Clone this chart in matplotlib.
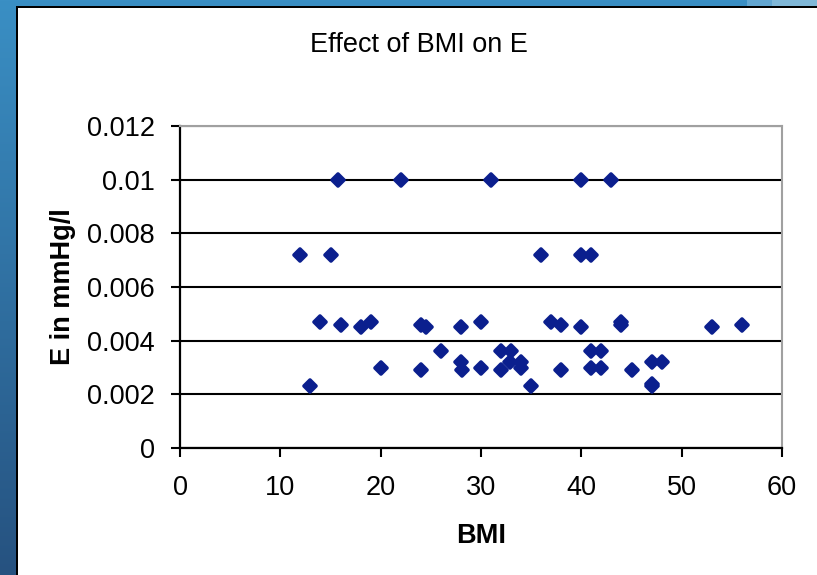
import numpy as np
import matplotlib
matplotlib.use("Agg")
import matplotlib.pyplot as plt
from matplotlib.patches import Rectangle
from matplotlib.markers import MarkerStyle

# BMI vs E values
bmi = [12, 13, 14, 15, 15.7, 16, 18, 19, 20, 22,
       24, 24, 24.5, 26, 28, 28, 28.1, 30, 30, 31,
       32, 33, 32, 32.9, 34, 34, 35, 36, 37, 38,
       38, 40, 40, 41, 40, 41, 42, 41, 42, 43,
       44, 44, 45, 47, 48, 47, 47, 53, 56]
e_values = [0.0072, 0.0023, 0.0047, 0.0072, 0.01, 0.0046, 0.0045, 0.0047, 0.003, 0.01,
            0.0046, 0.0029, 0.0045, 0.0036, 0.0045, 0.0032, 0.0029, 0.0047, 0.003, 0.01,
            0.0036, 0.0036, 0.0029, 0.0032, 0.0032, 0.003, 0.0023, 0.0072, 0.0047, 0.0046,
            0.0029, 0.01, 0.0072, 0.0072, 0.0045, 0.0036, 0.0036, 0.003, 0.003, 0.01,
            0.0047, 0.0046, 0.0029, 0.0032, 0.0032, 0.0023, 0.0024, 0.0045, 0.0046]

x_ticks = [0, 10, 20, 30, 40, 50, 60]
y_ticks = [0, 0.002, 0.004, 0.006, 0.008, 0.01, 0.012]
y_tick_labels = ["0", "0.002", "0.004", "0.006", "0.008", "0.01", "0.012"]

W, H = 817, 575
plt.rcParams['font.family'] = ['Liberation Sans', 'DejaVu Sans']

fig = plt.figure(figsize=(W / 100, H / 100), dpi=100)

# slide background: blue gradient with the white chart area on top
bg = fig.add_axes([0, 0, 1, 1], zorder=-10)
grad = np.linspace(0, 1, 256).reshape(-1, 1)
top_c = np.array([58, 143, 196]) / 255
bot_c = np.array([38, 82, 128]) / 255
img = top_c + (bot_c - top_c) * grad[:, :, None]
bg.imshow(img, aspect='auto', extent=[0, 1, 0, 1], origin='upper')
bg.add_patch(Rectangle((747 / W, 1 - 6 / H), 25 / W, 6 / H, color='#62a6d1', lw=0))
bg.add_patch(Rectangle((772 / W, 1 - 6 / H), 45 / W, 6 / H, color='#80b8d8', lw=0))
bg.add_patch(Rectangle((16 / W, 0), 1, 1 - 6 / H, color='black', lw=0))
bg.add_patch(Rectangle((18 / W, 0), 1, 1 - 8 / H, color='white', lw=0))
bg.set_xlim(0, 1)
bg.set_ylim(0, 1)
bg.axis('off')

ax = fig.add_axes([180 / W, 1 - 448 / H, 602 / W, 322 / H])
ax.set_facecolor('white')
# rounded diamonds like the Excel markers
diamond = MarkerStyle('D', joinstyle='round')
ax.plot(bmi, e_values, linestyle='none', marker=diamond, markersize=6,
        color='#0b1f8e', markeredgewidth=2.6, zorder=3)

ax.set_xlim(0, 60)
ax.set_ylim(0, 0.012)
ax.set_xticks(x_ticks)
ax.set_yticks(y_ticks)
ax.set_yticklabels(y_tick_labels)
ax.grid(axis='y', color='black', linewidth=1.5)
ax.set_axisbelow(True)

for side in ['left', 'bottom']:
    ax.spines[side].set_color('black')
    ax.spines[side].set_linewidth(1.6)
for side in ['top', 'right']:
    ax.spines[side].set_color('#a0a0a0')
    ax.spines[side].set_linewidth(1.5)

ax.tick_params(axis='both', direction='out', length=6.5, width=1.5,
               colors='black', labelsize=19.5)
ax.tick_params(axis='y', pad=11.5)
ax.tick_params(axis='x', pad=13)

fig.text(419 / W, 1 - 52.3 / H, "Effect of BMI on E", fontsize=19.5,
         ha='center', va='baseline')
fig.text(481 / W, 1 - 543 / H, "BMI", fontsize=19.5, fontweight='bold',
         ha='center', va='baseline')
fig.text(70 / W, 1 - 287 / H, "E in mmHg/l", fontsize=19.5, fontweight='bold',
         ha='center', va='baseline', rotation=90, rotation_mode='anchor')

fig.savefig("out.png", dpi=100)
